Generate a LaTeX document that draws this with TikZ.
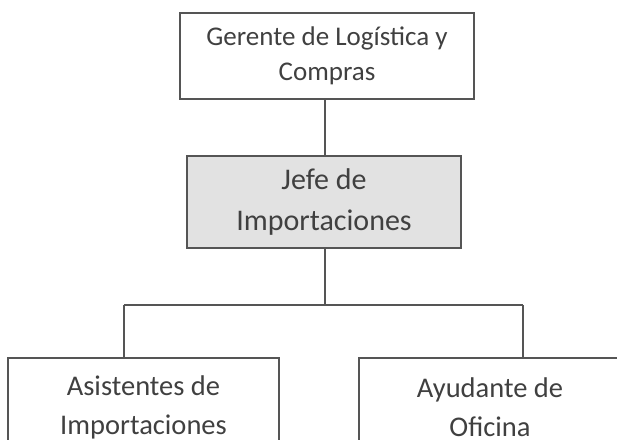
\documentclass[tikz,border=0pt]{standalone}
\usepackage{fontspec}
\setmainfont{Carlito}
\usepackage{xcolor}
\usepackage{tikz}

\definecolor{texto}{HTML}{404040}
\definecolor{linea}{HTML}{555555}
\definecolor{relleno}{HTML}{E2E2E2}

\begin{document}
\begin{tikzpicture}[x=1pt, y=-1pt,
  caja/.style={rectangle, draw=linea, line width=1.4pt, text=texto, align=center, inner sep=0pt},
  conector/.style={draw=linea, line width=1.4pt}]
\useasboundingbox (0,0) rectangle (617,439);
\clip (0,0) rectangle (617,439);
\node (gerente) [caja, minimum width=294pt, minimum height=86pt, font=\fontsize{27}{35}\selectfont] at (327,56) {Gerente de Logística y\\Compras};
\node (jefe) [caja, fill=relleno, minimum width=274pt, minimum height=92pt, font=\fontsize{30}{41}\selectfont] at (324,202) {Jefe de\\Importaciones};
\node (asistentes) [caja, minimum width=271pt, minimum height=98pt, font=\fontsize{28.5}{39}\selectfont] at (143.5,407) {Asistentes de\\Importaciones};
\node (ayudante) [caja, minimum width=262pt, minimum height=98pt, font=\fontsize{28.5}{39}\selectfont] at (490,407) {Ayudante de\\Oficina};
\coordinate (barraL) at (124,305);
\coordinate (barraR) at (523,305);
\draw[conector] (gerente.south -| 325,0) -- (jefe.north -| 325,0);
\draw[conector] (jefe.south -| 325,0) -- (barraL -| 325,0);
\draw[conector] (barraL) -- (barraR);
\draw[conector] (barraL) -- (barraL |- asistentes.north);
\draw[conector] (barraR) -- (barraR |- ayudante.north);
\end{tikzpicture}
\end{document}
